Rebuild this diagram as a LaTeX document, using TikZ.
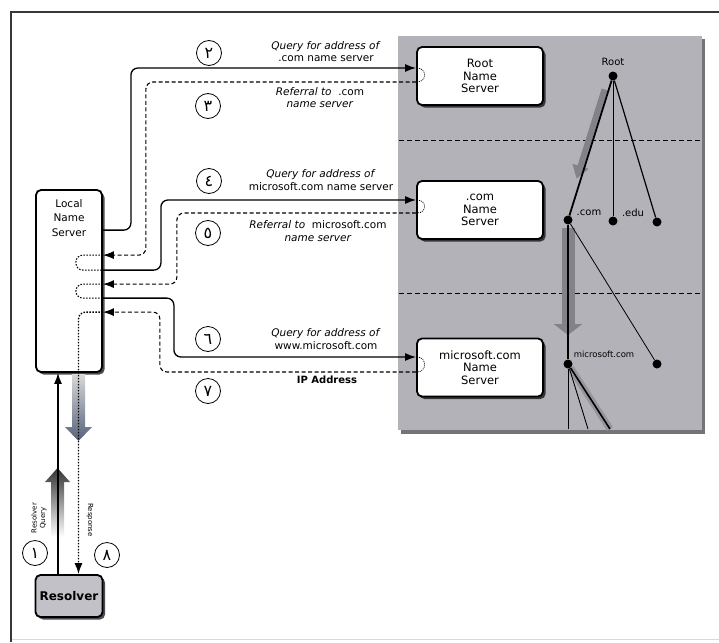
\documentclass[tikz,border=0pt]{standalone}
\usepackage{fontspec}
\setmainfont{DejaVu Sans}
\newfontfamily\arabicfont[Script=Arabic]{DejaVu Sans}
\usetikzlibrary{arrows.meta,shadows,calc}
\definecolor{panelgray}{RGB}{180,178,185}
\definecolor{panelshadow}{RGB}{115,115,120}
\definecolor{resfill}{RGB}{194,193,199}
\definecolor{framecol}{RGB}{55,55,55}
\definecolor{bararrow}{RGB}{130,130,136}
\definecolor{respblue}{RGB}{85,98,122}
\begin{document}
\begin{tikzpicture}[x=1pt,y=-1pt,
  box/.style={draw=black, line width=1.8pt, rounded corners=5pt, fill=white, inner sep=0pt, align=center,
    drop shadow={shadow xshift=2.5pt, shadow yshift=-2.5pt, opacity=0.7, fill=black}},
  server/.style={box, minimum width=126pt, minimum height=58pt, font=\fontsize{11.5}{12.5}\selectfont},
  qline/.style={line width=1.3pt, rounded corners=7pt, -{Latex[length=11pt,width=8pt]}},
  rline/.style={line width=1.1pt, dash pattern=on 4pt off 2.5pt, rounded corners=7pt, -{Latex[length=11pt,width=8pt]}},
  loopline/.style={line width=1.1pt, dash pattern=on 1.5pt off 1.5pt, rounded corners=7pt},
  num/.style={circle, draw=black, line width=0.8pt, minimum size=25pt, inner sep=0pt, fill=white,
    font=\arabicfont\fontsize{16}{16}\selectfont},
  lab/.style={align=center, inner sep=0pt, font=\fontsize{10.5}{12.5}\selectfont},
  tdot/.style={circle, fill=black, minimum size=9pt, inner sep=0pt},
  tlab/.style={inner sep=0pt, font=\fontsize{10}{10}\selectfont},
  sep/.style={line width=1pt, dash pattern=on 5pt off 3pt},
]
\useasboundingbox (0,0) rectangle (719,642);
% frame
\draw[line width=0.8pt, black!15] (11,639) -- (719,639);
\draw[line width=2pt, framecol] (719,12) -- (11,12) -- (11,642);

% gray panel
\fill[panelshadow] (401,39) rectangle (705,434);
\fill[panelgray] (398,36) rectangle (702,430);
\draw[sep] (399,140) -- (702,140);
\draw[sep] (399,293) -- (702,293);

% tree
\node[tdot] (troot) at (613,76) {};
\node[tdot] (tcom) at (568,220) {};
\node[tdot] (tedu) at (613,221) {};
\node[tdot] (tn3) at (657,222) {};
\node[tdot] (tms) at (568,364) {};
\node[tdot] (tn5) at (657,364) {};
\coordinate (b1) at (568,429);
\coordinate (b2) at (588,429);
\coordinate (b3) at (610,429);
\node[tlab] (troottxt) at (613,62) {Root};
\node[tlab] (tcomtxt) at (589,213) {.com};
\node[tlab] (tedutxt) at (633,213) {.edu};
\node[tlab, font=\fontsize{8.5}{8.5}\selectfont] (tmstxt) at (604,354) {microsoft.com};

\draw[line width=6pt, draw=bararrow, -{Triangle[length=13pt,width=16pt]}]
  ($(troot)!0.1!(tcom)+(-4,-1)$) -- ($(troot)!0.72!(tcom)+(-4,-1)$);
\draw[line width=13pt, draw=bararrow, -{Triangle[length=11pt,width=28pt]}]
  ($(tcom)+(0,8)$) -- ($(tms)+(0,-29)$);
\draw[line width=7pt, bararrow!60!panelgray] (tms) -- (b3);

\draw[line width=1.8pt] (troot) -- (tcom);
\draw[line width=0.9pt] (troot) -- (tedu);
\draw[line width=1.2pt] (troot) -- (tn3);
\draw[line width=2.2pt] (tcom) -- (tms);
\draw[line width=0.8pt] (tcom) -- (tn5);
\draw[line width=0.8pt] (tms) -- (b1);
\draw[line width=0.9pt] (tms) -- (b2);
\draw[line width=1.6pt] (tms) -- (b3);

% servers
\node[server] (root) at (480,76) {Root\\Name\\Server};
\node[server] (com) at (480,210) {.com\\Name\\Server};
\node[server] (ms) at (480,367.5) {microsoft.com\\Name\\Server};

% local name server and resolver
\node[box, minimum width=66pt, minimum height=182pt] (lns) at (69,281) {};
\node[align=center, inner sep=0pt, font=\fontsize{10.5}{14.5}\selectfont] (lnstxt) at (69,218) {Local\\Name\\Server};
\node[box, fill=resfill, minimum width=67pt, minimum height=42pt, font=\bfseries\fontsize{12}{12}\selectfont] (res) at (69,596) {Resolver};

% broad gray arrows (left)
\shade[top color=black!80, bottom color=white] (51,537) -- (51,482) -- (45,482) -- (57.5,468) -- (70,482) -- (64,482) -- (64,537) -- cycle;
\shade[top color=black!15, bottom color=respblue] (72,374) -- (72,427) -- (65,427) -- (78.5,441) -- (92,427) -- (85,427) -- (85,374) -- cycle;

% connectors
\draw[qline] ($(lns.north east)+(0,41)$) -- ++(28,0) |- ([yshift=8pt]root.west);
\draw[rline] ([yshift=-6pt]root.west) -| ($(lns.north east)+(43,66)$) -- ($(lns.north east)+(0,66)$);
\draw[qline] ($(lns.north east)+(0,81)$) -- ++(58,0) |- ([yshift=10pt]com.west);
\draw[rline] ([yshift=-3pt]com.west) -| ($(lns.north east)+(74,95)$) -- ($(lns.north east)+(0,95)$);
\draw[qline] ($(lns.north east)+(0,109)$) -- ++(71,0) |- ([yshift=10.5pt]ms.west);
\draw[rline] ([yshift=-4.5pt]ms.west) -| ($(lns.north east)+(57,123)$) -- ($(lns.north east)+(0,123)$);

% loops inside the local name server
\draw[loopline] ($(lns.north east)+(0,66)$) -- ++(-27,0) -- ++(0,15) -- ++(27,0);
\draw[loopline] ($(lns.north east)+(0,95)$) -- ++(-27,0) -- ++(0,14) -- ++(27,0);
\draw[loopline, line width=1.4pt, -{Latex[length=11pt,width=8pt]}] ($(lns.north east)+(0,123)$) -| ($(res.north)+(9.5,0)$);
\draw[qline] ($(res.north)+(-11,0)$) -- ($(lns.south)+(-11,0)$);

% small loops inside the servers
\draw[line width=0.7pt, dash pattern=on 1pt off 1pt] ([xshift=1pt,yshift=8pt]root.west) .. controls +(10,0) and +(10,0) .. ([xshift=1pt,yshift=-6pt]root.west);
\draw[line width=0.7pt, dash pattern=on 1pt off 1pt] ([xshift=1pt,yshift=10pt]com.west) .. controls +(10,0) and +(10,0) .. ([xshift=1pt,yshift=-3pt]com.west);
\draw[line width=0.7pt, dash pattern=on 1pt off 1pt] ([xshift=1pt,yshift=10.5pt]ms.west) .. controls +(10,0) and +(10,0) .. ([xshift=1pt,yshift=-4.5pt]ms.west);

% labels
\node[lab] (l2) at (326,51.5) {\textit{Query for address of}\\.com name server};
\node[lab] (l3) at (320,97.5) {\textit{Referral to}\ \ .com\\\textit{name server}};
\node[lab] (l4) at (321,180) {\textit{Query for address of}\\microsoft.com name server};
\node[lab] (l5) at (318,231) {\textit{Referral to}\ \ microsoft.com\\\textit{name server}};
\node[lab] (l6) at (326,339) {\textit{Query for address of}\\www.microsoft.com};
\node[lab, font=\bfseries\fontsize{10}{12}\selectfont] (l7) at (327,380) {IP Address};
\node[align=center, inner sep=0pt, rotate=90, font=\fontsize{7}{8.5}\selectfont] (l1) at (39,518) {Resolver\\Query};
\node[inner sep=0pt, rotate=-90, font=\fontsize{7}{8.5}\selectfont] (l8) at (90,520) {Response};

% step numbers
\node[num] (n2) at (209,53) {٢};
\node[num] (n3) at (208,106) {٣};
\node[num] (n4) at (209,181) {٤};
\node[num] (n5) at (208,233) {٥};
\node[num] (n6) at (208,339) {٦};
\node[num] (n7) at (208,391) {٧};
\node[num] (n1) at (35,553) {١};
\node[num] (n8) at (107,555) {٨};
\end{tikzpicture}
\end{document}
